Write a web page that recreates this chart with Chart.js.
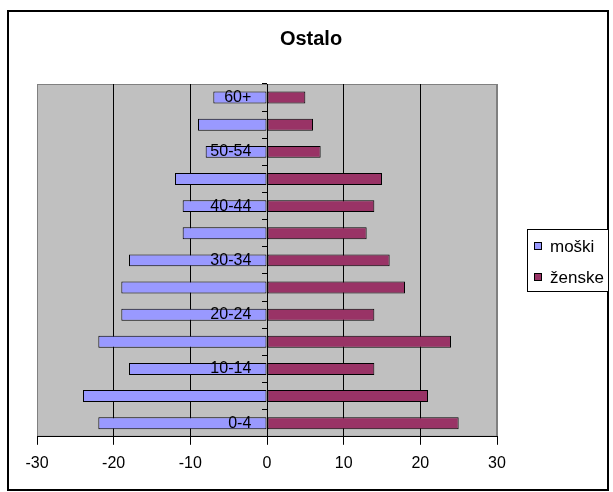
<!DOCTYPE html>
<html>
<head>
<meta charset="utf-8">
<script src="https://cdn.jsdelivr.net/npm/chart.js@4/dist/chart.umd.min.js"></script>
<style>
    body { margin: 0; background: #fff; }
</style>
</head>
<body>
<canvas id="piramida" width="613" height="492"></canvas>
<script>
// starostne skupine, od spodaj navzgor
const starostneSkupine = ['0-4','5-9','10-14','15-19','20-24','25-29','30-34','35-39','40-44','45-49','50-54','55-59','60+']
const moski  = [-22,-24,-18,-22,-19,-19,-18,-11,-11,-12,-8,-9,-7]
const zenske = [25,21,14,24,14,18,16,13,14,15,7,6,5]
const xOznake = [-30,-20,-10,0,10,20,30]

document.addEventListener('DOMContentLoaded',()=>{

    Chart.defaults.font.family = '"Liberation Sans", Arial, sans-serif'
    Chart.defaults.color = '#000'

    // okvir grafa in sivo ozadje risalne ploskve
    let ozadje = {
        id: 'ozadje',
        afterLayout(chart) {
            // naslov je centriran na celoten okvir, ne le na risalno ploskev
            chart.titleBlock.left = 8
            chart.titleBlock.right = 614
        },
        beforeDraw(chart) {
            let ctx = chart.ctx
            let a = chart.chartArea
            ctx.save()
            ctx.fillStyle = '#fff'
            ctx.fillRect(0, 0, chart.width, chart.height)
            ctx.strokeStyle = '#000'
            ctx.lineWidth = 2
            ctx.strokeRect(8, 11, 600, 479)
            ctx.fillStyle = '#c0c0c0'
            ctx.fillRect(a.left, a.top, a.right - a.left, a.bottom - a.top)
            ctx.strokeStyle = '#808080'
            ctx.lineWidth = 1
            ctx.strokeRect(a.left + 0.5, a.top + 0.5, a.right - a.left - 1, a.bottom - a.top - 1)
            ctx.restore()
        }
    }

    // legenda v okvirju desno od grafa
    let legenda = {
        id: 'legenda',
        afterDraw(chart) {
            let ctx = chart.ctx
            let a = chart.chartArea
            let levo = a.right + 30
            let sirina = 81, visina = 62
            let zgoraj = Math.round((a.top + a.bottom) / 2 - visina / 2)
            ctx.save()
            ctx.fillStyle = '#fff'
            ctx.fillRect(levo, zgoraj, sirina, visina)
            ctx.strokeStyle = '#000'
            ctx.lineWidth = 1
            ctx.strokeRect(levo + 0.5, zgoraj + 0.5, sirina, visina)
            ctx.font = '17px "Liberation Sans", Arial, sans-serif'
            ctx.textBaseline = 'middle'
            chart.data.datasets.forEach((ds, i) => {
                let y = zgoraj + 17 + i * 31
                ctx.fillStyle = ds.backgroundColor
                ctx.fillRect(levo + 7, y - 4, 8, 8)
                ctx.strokeRect(levo + 7.5, y - 3.5, 7, 7)
                ctx.fillStyle = '#000'
                ctx.fillText(ds.label, levo + 23, y + 1)
            })
            ctx.restore()
        }
    }

    let platno = document.getElementById('piramida')

    new Chart(platno, {
        type: 'bar',
        data: {
            labels: starostneSkupine,
            datasets: [
                {
                    label: 'moški',
                    data: moski,
                    backgroundColor: '#9999ff',
                    borderColor: '#000',
                    borderWidth: 1,
                    borderSkipped: false
                },
                {
                    label: 'ženske',
                    data: zenske,
                    backgroundColor: '#993366',
                    borderColor: '#000',
                    borderWidth: 1,
                    borderSkipped: false
                }
            ]
        },
        options: {
            indexAxis: 'y',
            responsive: false,
            animation: false,
            categoryPercentage: 1,
            barPercentage: 0.44,
            layout: {
                padding: { left: 37, right: 116, top: 12, bottom: 10 }
            },
            plugins: {
                legend: { display: false },
                tooltip: { enabled: false },
                title: {
                    display: true,
                    text: 'Ostalo',
                    color: '#000',
                    font: { size: 20, weight: 'bold' },
                    padding: { top: 15, bottom: 33 }
                }
            },
            scales: {
                x: {
                    stacked: true,
                    min: -30,
                    max: 30,
                    afterBuildTicks: s => { s.ticks = xOznake.map(v => ({ value: v })) },
                    grid: {
                        color: c => (c.tick && Math.abs(c.tick.value) === 30) ? '#808080' : '#000',
                        tickColor: '#000',
                        tickLength: 8
                    },
                    border: { color: '#000' },
                    ticks: {
                        font: { size: 16 },
                        padding: 9,
                        maxRotation: 0
                    }
                },
                // os skozi 0: samo črta in kratke oznake
                y: {
                    stacked: true,
                    reverse: true,
                    position: { x: 0 },
                    grid: {
                        offset: true,
                        drawOnChartArea: false,
                        tickLength: 5,
                        tickColor: '#000',
                        z: 1
                    },
                    border: { color: '#000', z: 1 },
                    ticks: { display: false }
                },
                // napisi starostnih skupin, malo levo od osi, čez stolpce
                yNapisi: {
                    type: 'category',
                    axis: 'y',
                    labels: starostneSkupine,
                    reverse: true,
                    offset: true,
                    position: { x: -2.05 },
                    grid: { display: false },
                    border: { display: false },
                    ticks: {
                        autoSkip: false,
                        z: 2,
                        font: { size: 16 },
                        callback: (v, i) => i % 2 === 0 ? starostneSkupine[i] : ''
                    }
                }
            }
        },
        plugins: [ozadje, legenda]
    })
})
</script>
</body>
</html>
